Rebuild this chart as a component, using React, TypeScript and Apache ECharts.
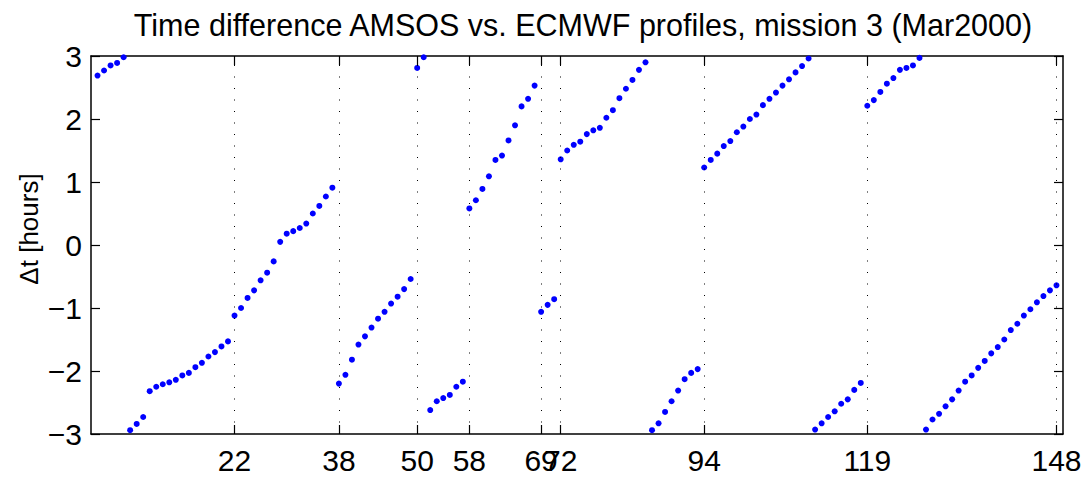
import React, { useEffect, useRef } from "react";
import * as echarts from "echarts";

// Time difference (hours) per profile
const dtProfiles1to37: number[] = [
  2.69, 2.77, 2.85, 2.89, 2.98, -2.94, -2.84, -2.73, -2.32, -2.25,
  -2.21, -2.18, -2.14, -2.07, -2.03, -1.94, -1.87, -1.77, -1.7, -1.61,
  -1.53, -1.12, -1.0, -0.84, -0.72, -0.56, -0.44, -0.26, 0.05, 0.18,
  0.22, 0.27, 0.34, 0.5, 0.62, 0.77, 0.91,
];
const dtProfiles38to57: number[] = [
  -2.2, -2.06, -1.82, -1.58, -1.45, -1.31, -1.17, -1.06, -0.93, -0.82,
  -0.7, -0.54, 2.81, 2.98, -2.62, -2.48, -2.43, -2.38, -2.25, -2.17,
];
const dtProfiles58to93: number[] = [
  0.58, 0.71, 0.89, 1.09, 1.35, 1.42, 1.66, 1.9, 2.2, 2.32,
  2.53, -1.06, -0.95, -0.86, 1.36, 1.5, 1.59, 1.64, 1.76, 1.82,
  1.86, 2.02, 2.14, 2.33, 2.48, 2.62, 2.78, 2.9, -2.94, -2.83,
  -2.65, -2.48, -2.31, -2.13, -2.03, -1.97,
];
const dtProfiles94to148: number[] = [
  1.23, 1.35, 1.45, 1.57, 1.65, 1.79, 1.88, 2.0, 2.07, 2.22,
  2.32, 2.42, 2.53, 2.63, 2.74, 2.84, 2.96, -2.93, -2.83, -2.73,
  -2.64, -2.52, -2.45, -2.3, -2.19, 2.21, 2.3, 2.43, 2.56, 2.65,
  2.78, 2.81, 2.85, 2.97, -2.93, -2.77, -2.68, -2.56, -2.45, -2.31,
  -2.17, -2.07, -1.95, -1.84, -1.72, -1.62, -1.5, -1.35, -1.25, -1.12,
  -1.02, -0.91, -0.81, -0.72, -0.64,
];

const xTicks: number[] = [22, 38, 50, 58, 69, 72, 94, 119, 148];
const yTicks: number[] = [-3, -2, -1, 0, 1, 2, 3];

const titleText = "Time difference AMSOS vs. ECMWF profiles, mission 3 (Mar2000)";
const yLabelText = "\u0394t [hours]";

const FONT = "'Liberation Sans', Arial, Helvetica, sans-serif";

export default function App() {
  const ref = useRef<HTMLDivElement>(null);

  useEffect(() => {
    if (!ref.current) return;
    const chart = echarts.init(ref.current, undefined, { renderer: "svg" });

    const allDt = [
      ...dtProfiles1to37,
      ...dtProfiles38to57,
      ...dtProfiles58to93,
      ...dtProfiles94to148,
    ];
    const points = allDt.map((v, k) => [k + 1, v]);

    const tickCommon = {
      show: true,
      inside: true,
      length: 9,
      lineStyle: { color: "#000", width: 1.2 },
    };
    const axisLineCommon = {
      show: true,
      onZero: false,
      lineStyle: { color: "#000", width: 1.5 },
    };

    chart.setOption({
      animation: false,
      backgroundColor: "#fff",
      title: {
        text: titleText,
        left: 578,
        textAlign: "center",
        top: 4,
        textStyle: {
          fontFamily: FONT,
          fontSize: 30.5,
          fontWeight: "normal",
          color: "#000",
        },
      },
      grid: { left: 91, right: 23, top: 56, bottom: 43, containLabel: false },
      xAxis: [
        {
          type: "value",
          min: 0,
          max: 149,
          position: "bottom",
          axisLine: axisLineCommon,
          axisTick: { ...tickCommon, customValues: xTicks },
          axisLabel: {
            customValues: xTicks,
            margin: 11,
            fontFamily: FONT,
            fontSize: 30,
            color: "#000",
            hideOverlap: false,
          },
          splitLine: { show: false },
        },
        {
          type: "value",
          min: 0,
          max: 149,
          position: "top",
          axisLine: axisLineCommon,
          axisTick: { ...tickCommon, customValues: xTicks },
          axisLabel: { show: false },
          splitLine: { show: false },
        },
      ],
      yAxis: [
        {
          type: "value",
          min: -3,
          max: 3,
          interval: 1,
          position: "left",
          axisLine: axisLineCommon,
          axisTick: { ...tickCommon, customValues: yTicks },
          axisLabel: {
            customValues: yTicks,
            margin: 9,
            fontFamily: FONT,
            fontSize: 30,
            color: "#000",
            formatter: (v: number) => String(v).replace("-", "\u2212"),
          },
          splitLine: { show: false },
        },
        {
          type: "value",
          min: -3,
          max: 3,
          interval: 1,
          position: "right",
          axisLine: axisLineCommon,
          axisTick: { ...tickCommon, customValues: yTicks },
          axisLabel: { show: false },
          splitLine: { show: false },
        },
      ],
      graphic: [
        {
          type: "text",
          x: 29,
          y: 229,
          rotation: Math.PI / 2,
          style: {
            text: yLabelText,
            fontFamily: FONT,
            fontSize: 26,
            fill: "#000",
            align: "center",
            verticalAlign: "middle",
          },
        },
      ],
      series: [
        {
          type: "scatter",
          xAxisIndex: 0,
          yAxisIndex: 0,
          data: [],
          z: 1,
          silent: true,
          markLine: {
            silent: true,
            symbol: ["none", "none"],
            label: { show: false },
            lineStyle: { color: "#000", type: [1, 10.5], width: 1 },
            data: xTicks.map((t) => ({ xAxis: t })),
          },
        },
        {
          type: "scatter",
          xAxisIndex: 0,
          yAxisIndex: 0,
          data: points,
          symbol: "circle",
          symbolSize: 6,
          clip: false,
          z: 3,
          itemStyle: { color: "#0000ff", opacity: 1 },
        },
      ],
    });

    return () => chart.dispose();
  }, []);

  return (
    <div
      ref={ref}
      style={{ position: "fixed", left: 0, top: 0, width: 1086, height: 477 }}
    />
  );
}
